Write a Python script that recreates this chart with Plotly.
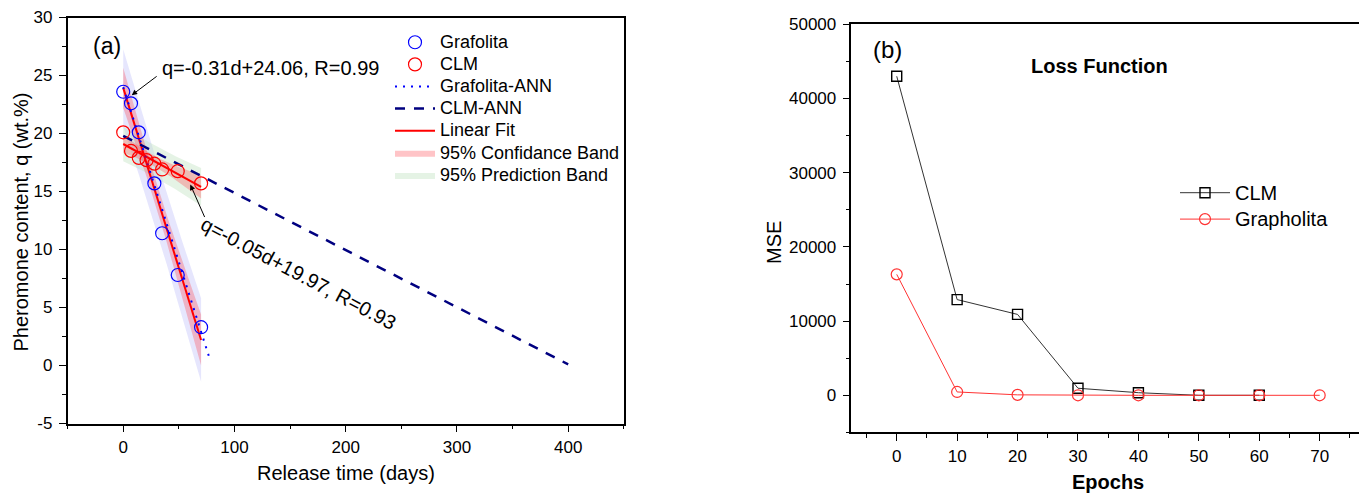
import numpy as np
import plotly.graph_objects as go

# ---------------- data: panel (a) ----------------
graf_days = [0, 7, 14, 28, 35, 49, 70]
graf_q = [23.6, 22.6, 20.1, 15.7, 11.4, 7.8, 3.3]
clm_days = [0, 7, 14, 21, 28, 35, 49, 70]
clm_q = [20.1, 18.5, 17.9, 17.7, 17.4, 16.9, 16.75, 15.7]
graf_ann_days = [0, 77]
graf_ann_q = [24.0, 0.8]
clm_ann_days = [0, 400]
clm_ann_q = [19.8, 0.1]

# ---------------- data: panel (b) ----------------
epochs_clm = [0, 10, 20, 30, 40, 50, 60]
mse_clm = [43000, 12900, 10900, 950, 350, 0, 0]
epochs_graph = [0, 10, 20, 30, 40, 50, 60, 70]
mse_graph = [16300, 450, 60, 0, 0, 0, 0, 0]

# ---------------- tick labels ----------------
xticks_a = [0, 100, 200, 300, 400]
yticks_a = [-5, 0, 5, 10, 15, 20, 25, 30]
ytext_a = ["-5", "0", "5", "10", "15", "20", "25", "30"]
xticks_b = [0, 10, 20, 30, 40, 50, 60, 70]
yticks_b = [0, 10000, 20000, 30000, 40000, 50000]
ytext_b = ["0", "10000", "20000", "30000", "40000", "50000"]

T_975 = {5: 2.5706, 6: 2.4469}


def fit_bands(x, y):
    x = np.asarray(x, float)
    y = np.asarray(y, float)
    n = len(x)
    b, a = np.polyfit(x, y, 1)
    xs = np.linspace(x.min(), x.max(), 60)
    yf = a + b * xs
    s = np.sqrt(np.sum((y - (a + b * x)) ** 2) / (n - 2))
    sxx = np.sum((x - x.mean()) ** 2)
    t = T_975[n - 2]
    cm = t * s * np.sqrt(1 / n + (xs - x.mean()) ** 2 / sxx)
    pm = t * s * np.sqrt(1 + 1 / n + (xs - x.mean()) ** 2 / sxx)
    return xs, yf, yf - cm, yf + cm, yf - pm, yf + pm


def band(xs, lo, hi):
    return np.concatenate([xs, xs[::-1]]), np.concatenate([hi, lo[::-1]])


FONT = "Arial, Liberation Sans, sans-serif"
OFF = 8                      # page body margin
W, H = 1367 - OFF, 497 - OFF


def fx(p):
    return (p - OFF) / W


def fy(p):
    return 1 - (p - OFF) / H


def L(text, size):
    return f"<span style='font-size:{size}px'>{text}</span>"


fig = go.Figure()

gx, gy, gcl, gch, gpl, gph = fit_bands(graf_days, graf_q)
cx, cy, ccl, cch, cpl, cph = fit_bands(clm_days, clm_q)

# prediction bands
bx, by = band(gx, gpl, gph)
fig.add_trace(go.Scatter(x=bx, y=by, fill="toself", fillcolor="rgba(200,200,250,0.45)",
                         line=dict(width=0), mode="lines", showlegend=False, hoverinfo="skip"))
bx, by = band(cx, cpl, cph)
fig.add_trace(go.Scatter(x=bx, y=by, fill="toself", fillcolor="rgba(190,225,190,0.4)",
                         line=dict(width=0), mode="lines", name=L("95% Prediction Band", 18),
                         legendrank=7, hoverinfo="skip"))
# confidence bands
bx, by = band(gx, gcl, gch)
fig.add_trace(go.Scatter(x=bx, y=by, fill="toself", fillcolor="rgba(255,60,70,0.30)",
                         line=dict(width=0), mode="lines", name=L("95% Confidance Band", 18),
                         legendrank=6, hoverinfo="skip"))
bx, by = band(cx, ccl, cch)
fig.add_trace(go.Scatter(x=bx, y=by, fill="toself", fillcolor="rgba(255,60,70,0.30)",
                         line=dict(width=0), mode="lines", showlegend=False, hoverinfo="skip"))
# fit lines
fig.add_trace(go.Scatter(x=gx, y=gy, mode="lines", line=dict(color="#FF0000", width=2),
                         name=L("Linear Fit", 18), legendrank=5))
fig.add_trace(go.Scatter(x=cx, y=cy, mode="lines", line=dict(color="#FF0000", width=2),
                         showlegend=False))
# ANN lines
fig.add_trace(go.Scatter(x=graf_ann_days, y=graf_ann_q, mode="lines",
                         line=dict(color="#0000FF", width=2, dash="2px,6px"),
                         name=L("Grafolita-ANN", 18), legendrank=3))
fig.add_trace(go.Scatter(x=clm_ann_days, y=clm_ann_q, mode="lines",
                         line=dict(color="#000080", width=2.5, dash="10px,9px"),
                         name=L("CLM-ANN", 18), legendrank=4))
# data points
fig.add_trace(go.Scatter(x=graf_days, y=graf_q, mode="markers",
                         marker=dict(symbol="circle-open", size=13, color="#0000FF", line=dict(width=1.2)),
                         name=L("Grafolita", 18), legendrank=1))
fig.add_trace(go.Scatter(x=clm_days, y=clm_q, mode="markers",
                         marker=dict(symbol="circle-open", size=13, color="#FF0000", line=dict(width=1.2)),
                         name=L("CLM", 18), legendrank=2))

# panel (b)
fig.add_trace(go.Scatter(x=epochs_clm, y=mse_clm, mode="lines+markers", xaxis="x2", yaxis="y2",
                         line=dict(color="#333333", width=1),
                         marker=dict(symbol="square-open", size=10, color="#000000", line=dict(width=1.4)),
                         name=L("CLM", 20), legend="legend2", legendrank=1))
fig.add_trace(go.Scatter(x=epochs_graph, y=mse_graph, mode="lines+markers", xaxis="x2", yaxis="y2",
                         line=dict(color="#FF3333", width=1),
                         marker=dict(symbol="circle-open", size=11, color="#FF3333", line=dict(width=1.2)),
                         name=L("Grapholita", 20), legend="legend2", legendrank=2))

axis_common = dict(showgrid=False, zeroline=False, showline=True, linecolor="black", linewidth=1.5,
                   mirror=True, ticks="outside", ticklen=7, tickwidth=1.3, tickcolor="black",
                   automargin=False,
                   tickfont=dict(family=FONT, size=17, color="black"))


def minor(d):
    return dict(tickmode="linear", dtick=d, ticks="outside", ticklen=4, tickwidth=1.3,
                tickcolor="black", showgrid=False)


fig.update_layout(
    template="none",
    width=W, height=H, margin=dict(l=0, r=0, t=0, b=0, pad=0, autoexpand=False),
    paper_bgcolor="white", plot_bgcolor="white",
    font=dict(family=FONT, color="black"),
    xaxis=dict(domain=[fx(67.6), fx(623.8)], range=[-50, 450], tickmode="array", tickvals=xticks_a,
               minor=dict(minor(50), tick0=-50), anchor="y", **axis_common),
    yaxis=dict(domain=[fy(423.5), fy(17.5)], range=[-5, 30], tickmode="array",
               tickvals=yticks_a, ticktext=ytext_a, minor=dict(minor(2.5), tick0=-5),
               anchor="x", ticklabelstandoff=3, **axis_common),
    xaxis2=dict(domain=[fx(851.4), fx(1365)], range=[-7.5, 77.5], tickmode="array", tickvals=xticks_b,
                minor=dict(minor(5), tick0=-5), anchor="y2", **axis_common),
    yaxis2=dict(domain=[fy(432.4), fy(24.3)], range=[-5000, 50000], tickmode="array",
                tickvals=yticks_b, ticktext=ytext_b, minor=dict(minor(5000), tick0=-5000),
                anchor="x2", ticklabelstandoff=3, **axis_common),
    legend=dict(x=fx(390), y=fy(26.2), xanchor="left", yanchor="top", bgcolor="rgba(0,0,0,0)",
                borderwidth=0, font=dict(family=FONT, size=14.7, color="black"), itemwidth=40,
                traceorder="normal"),
    legend2=dict(x=fx(1175), y=fy(174.5), xanchor="left", yanchor="top", bgcolor="rgba(0,0,0,0)",
                 borderwidth=0, font=dict(family=FONT, size=18, color="black"), itemwidth=50),
    showlegend=True,
)

annos = []
for text, (x, y), ang, size, bold in [
    ("Release time (days)", (345.7, 473), 0, 20, False),
    ("Pheromone content, q (wt.%)", (20.5, 222), -90, 20, False),
    ("MSE", (774, 243), -90, 20, False),
    ("Epochs", (1108.4, 482), 0, 20, True),
    ("(a)", (106.7, 46.5), 0, 23, False),
    ("(b)", (887.5, 50), 0, 24, False),
    ("Loss Function", (1099.6, 66), 0, 20, True),
]:
    annos.append(dict(text=f"<b>{text}</b>" if bold else text, x=fx(x), y=fy(y), xref="paper", yref="paper",
                      xanchor="center", yanchor="middle", showarrow=False, textangle=ang,
                      font=dict(family=FONT, size=size, color="black")))
annos.append(dict(text="q=-0.31d+24.06, R=0.99", x=fx(160), y=fy(68), xref="paper", yref="paper",
                  xanchor="left", yanchor="middle", showarrow=False,
                  font=dict(family=FONT, size=20, color="black")))
annos.append(dict(text="q=-0.05d+19.97, R=0.93", x=fx(298), y=fy(273), xref="paper", yref="paper",
                  xanchor="center", yanchor="middle", showarrow=False, textangle=28,
                  font=dict(family=FONT, size=20, color="black")))
annos.append(dict(text="", x=7.6, y=23.3, xref="x", yref="y", ax=26.5, ay=-20, showarrow=True,
                  arrowhead=2, arrowsize=1.1, arrowwidth=1, arrowcolor="black", standoff=0))
annos.append(dict(text="", x=60.3, y=15.6, xref="x", yref="y", ax=15, ay=34, showarrow=True,
                  arrowhead=2, arrowsize=1.1, arrowwidth=1, arrowcolor="black", standoff=0))
fig.update_layout(annotations=annos)

fig.write_html("out.html")
